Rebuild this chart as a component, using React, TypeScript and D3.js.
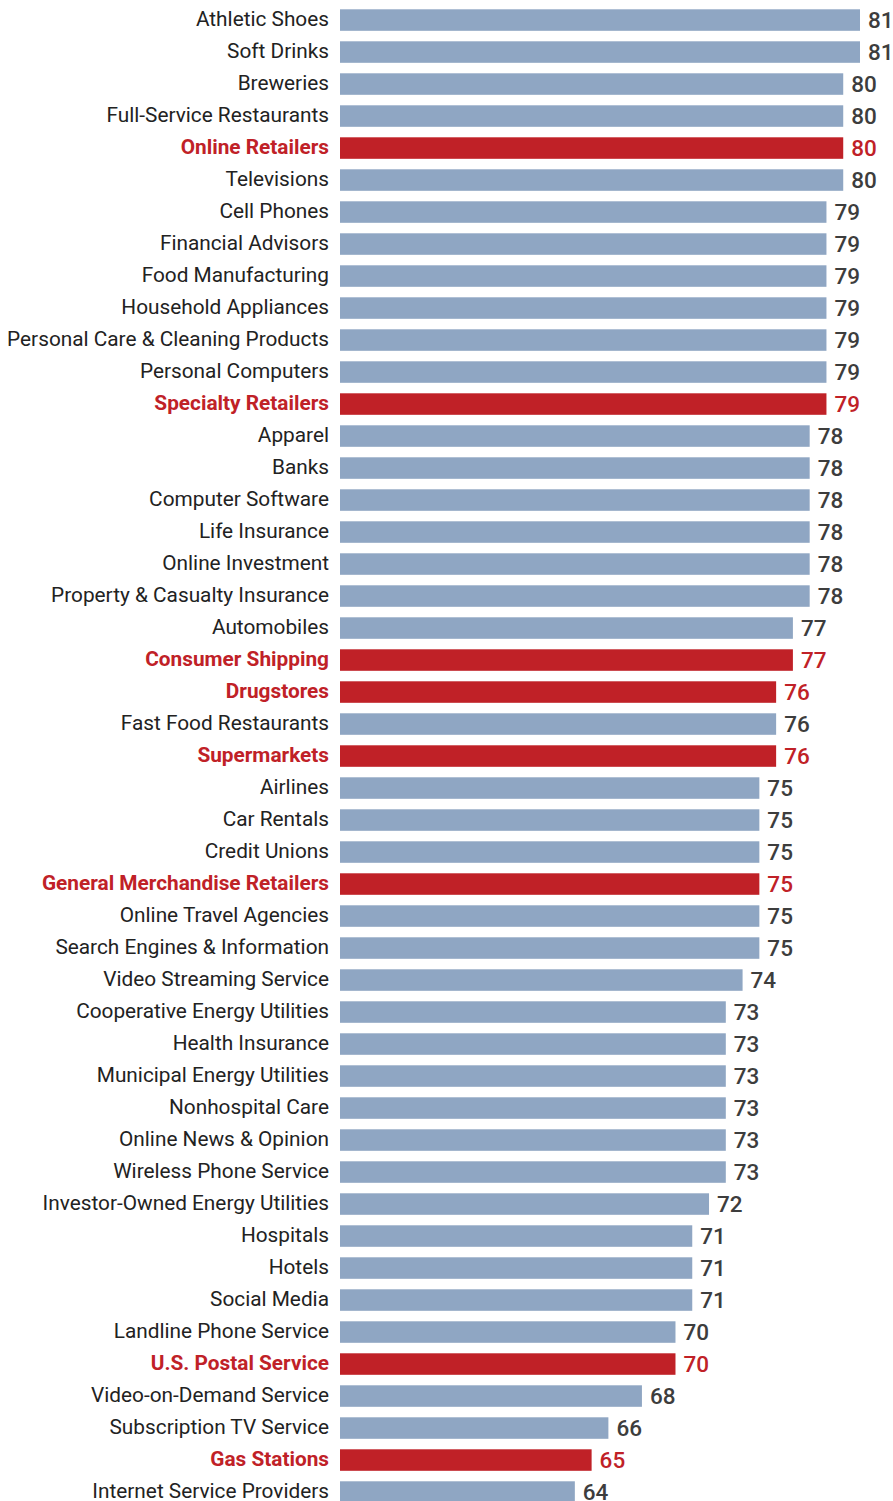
import React, { useEffect, useRef } from "react";
import * as d3 from "d3";

const categories = [
  "Athletic Shoes", "Soft Drinks", "Breweries", "Full-Service Restaurants", "Online Retailers",
  "Televisions", "Cell Phones", "Financial Advisors", "Food Manufacturing", "Household Appliances",
  "Personal Care & Cleaning Products", "Personal Computers", "Specialty Retailers", "Apparel", "Banks",
  "Computer Software", "Life Insurance", "Online Investment", "Property & Casualty Insurance", "Automobiles",
  "Consumer Shipping", "Drugstores", "Fast Food Restaurants", "Supermarkets", "Airlines",
  "Car Rentals", "Credit Unions", "General Merchandise Retailers", "Online Travel Agencies", "Search Engines & Information",
  "Video Streaming Service", "Cooperative Energy Utilities", "Health Insurance", "Municipal Energy Utilities", "Nonhospital Care",
  "Online News & Opinion", "Wireless Phone Service", "Investor-Owned Energy Utilities", "Hospitals", "Hotels",
  "Social Media", "Landline Phone Service", "U.S. Postal Service", "Video-on-Demand Service", "Subscription TV Service",
  "Gas Stations", "Internet Service Providers",
];

const scores = [
  81, 81, 80, 80, 80,
  80, 79, 79, 79, 79,
  79, 79, 79, 78, 78,
  78, 78, 78, 78, 77,
  77, 76, 76, 76, 75,
  75, 75, 75, 75, 75,
  74, 73, 73, 73, 73,
  73, 73, 72, 71, 71,
  71, 70, 70, 68, 66,
  65, 64,
];

const highlighted = [
  "Online Retailers", "Specialty Retailers", "Consumer Shipping", "Drugstores", "Supermarkets",
  "General Merchandise Retailers", "U.S. Postal Service", "Gas Stations",
];

const width = 893;
const height = 1501;
const barColor = "#8fa6c3";
const redColor = "#c02127";
const textColor = "#222222";
const valueColor = "#3d3d3d";
const font = "Roboto, 'Liberation Sans', sans-serif";

export default function App() {
  const ref = useRef<SVGSVGElement>(null);

  useEffect(() => {
    const svg = d3.select(ref.current);
    svg.selectAll("*").remove();

    const data = categories.map((c, i) => ({ name: c, value: scores[i], hi: highlighted.includes(c) }));

    const x = d3.scaleLinear().domain([50, 81]).range([340, 860]);
    // step 32px, bars ~21.5px tall
    const y = d3.scaleBand().domain(categories).range([9.3, 9.3 + 32 * 47 - 10.5]).paddingInner(0.328).paddingOuter(0);

    const rows = svg.selectAll("g.row").data(data).join("g").attr("class", "row");

    rows.append("rect")
      .attr("x", x(50))
      .attr("y", d => y(d.name)!)
      .attr("width", d => x(d.value) - x(50))
      .attr("height", y.bandwidth())
      .attr("fill", d => (d.hi ? redColor : barColor));

    rows.append("text")
      .attr("x", 329)
      .attr("y", d => y(d.name)! + y.bandwidth() / 2 - 1.5)
      .attr("dy", "0.35em")
      .attr("text-anchor", "end")
      .attr("font-family", font)
      .attr("font-size", 20.8)
      .attr("font-weight", d => (d.hi ? 700 : 400))
      .attr("fill", d => (d.hi ? redColor : textColor))
      .text(d => d.name);

    rows.append("text")
      .attr("x", d => x(d.value) + 8)
      .attr("y", d => y(d.name)! + y.bandwidth() / 2)
      .attr("dy", "0.35em")
      .attr("font-family", font)
      .attr("font-size", 22.5)
      .attr("font-weight", 500)
      .attr("fill", d => (d.hi ? redColor : valueColor))
      .text(d => d.value);
  }, []);

  return (
    <svg ref={ref} width={width} height={height} style={{ position: "absolute", left: 0, top: 0, background: "#fff" }} />
  );
}
